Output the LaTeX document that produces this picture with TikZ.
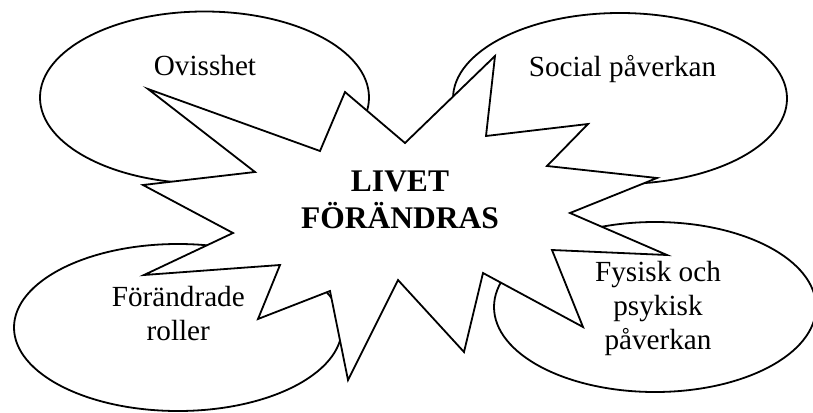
\documentclass[tikz,border=0pt]{standalone}
\usepackage{fontspec}
\setmainfont{Liberation Serif}
\begin{document}
\begin{tikzpicture}[x=1pt,y=-1pt,
  shape line/.style={line width=1.8pt, line join=miter},
  bubble/.style={shape line, fill=white},
  label/.style={font=\fontsize{29.2}{33.8}\selectfont, align=center, inner sep=0pt, anchor=base},
  title/.style={font=\fontsize{31.5}{36.4}\selectfont\bfseries, align=center, inner sep=0pt, anchor=base}]
\useasboundingbox (0,0) rectangle (813,412);
\clip (0,0) rectangle (813,412);
% ellipses
\draw[bubble] (204.5,97.5) ellipse [x radius=164.5pt, y radius=86pt];
\draw[bubble] (620,98.5) ellipse [x radius=167pt, y radius=85.5pt];
\draw[bubble] (178,327.5) ellipse [x radius=164pt, y radius=83.5pt];
\draw[bubble] (655,307) ellipse [x radius=161pt, y radius=85pt];
% star burst
\draw[bubble] (148,89) -- (320,151) -- (345,92) -- (405,143) -- (495,56) -- (486,136)
  -- (588,124) -- (547,166) -- (657,178) -- (570,213) -- (667,255) -- (552,250)
  -- (583,327) -- (483,273) -- (464,352) -- (398,280) -- (348,380) -- (330,291)
  -- (258,319) -- (280,265) -- (144,275) -- (233,233) -- (143,185) -- (255,172) -- cycle;
% texts (base anchor = baseline of the last line)
\node[label] (ovisshet) at (205,75) {Ovisshet};
\node[label] (social) at (622.5,76) {Social påverkan};
\node[label] (roller) at (178.3,340) {Förändrade\\roller};
\node[label] (fysisk) at (658,349) {Fysisk och\\psykisk\\påverkan};
\node[title] (livet) at (400,228.3) {LIVET\\FÖRÄNDRAS};
\end{tikzpicture}
\end{document}
